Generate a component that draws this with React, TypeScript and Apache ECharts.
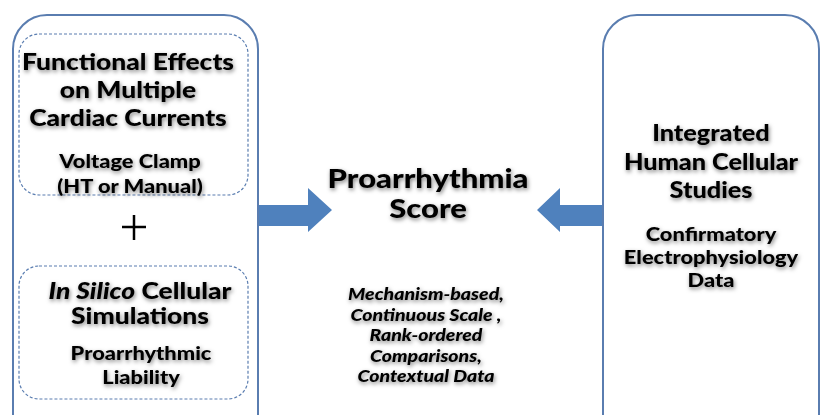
import React, { useEffect, useRef } from "react";
import * as echarts from "echarts";

const box1Title = ["Functional Effects", "on Multiple", "Cardiac Currents"];
const box1Sub = ["Voltage Clamp", "(HT or Manual)"];
const box2Title = ["{i|In Silico} Cellular", "Simulations"];
const box2Sub = ["Proarrhythmic", "Liability"];
const centerTitle = ["Proarrhythmia", "Score"];
const centerNotes = ["Mechanism-based,", "Continuous Scale ,", "Rank-ordered", "Comparisons,", "Contextual Data"];
const rightTitle = ["Integrated", "Human Cellular", "Studies"];
const rightSub = ["Confirmatory", "Electrophysiology", "Data"];

const FONT = "Lato, 'Open Sans', sans-serif";
const SX = 1.15;
const shadow = { textShadowColor: "rgba(0,0,0,0.5)", textShadowBlur: 4, textShadowOffsetX: 1, textShadowOffsetY: 2 };

function lines(arr: string[], cx: number, y0: number, dy: number, size: number, italic = false) {
  return arr.map((t, i) => ({
    type: "text",
    x: cx,
    y: y0 + i * dy,
    scaleX: SX,
    style: {
      text: t,
      fill: "#000",
      font: `${italic ? "italic " : ""}900 ${size}px ${FONT}`,
      textAlign: "center",
      textVerticalAlign: "middle",
      rich: {
        i: { fontStyle: "italic", fontWeight: 900, fontSize: size, fontFamily: FONT, fill: "#000", ...shadow },
      },
      ...shadow,
    },
  }));
}

export default function App() {
  const ref = useRef<HTMLDivElement>(null);
  useEffect(() => {
    const chart = echarts.init(ref.current!, null, { renderer: "svg" });
    const stroke = "#5a7db0";
    const arrowFill = "#4f81bd";
    chart.setOption({
      animation: false,
      backgroundColor: "#fff",
      graphic: [
        { type: "rect", shape: { x: 13, y: 15, width: 245, height: 440, r: 34 }, style: { fill: "none", stroke, lineWidth: 2 } },
        { type: "rect", shape: { x: 603, y: 15, width: 216, height: 440, r: 34 }, style: { fill: "none", stroke, lineWidth: 2 } },
        { type: "rect", shape: { x: 19, y: 34, width: 229, height: 161, r: 20 }, style: { fill: "none", stroke, lineWidth: 1.2, lineDash: [3, 2] } },
        { type: "rect", shape: { x: 19, y: 266, width: 229, height: 133, r: 20 }, style: { fill: "none", stroke, lineWidth: 1.2, lineDash: [3, 2] } },
        { type: "line", shape: { x1: 122, y1: 227, x2: 146, y2: 227 }, style: { stroke: "#000", lineWidth: 2.5 } },
        { type: "line", shape: { x1: 134, y1: 215, x2: 134, y2: 240 }, style: { stroke: "#000", lineWidth: 2.5 } },
        {
          type: "polygon",
          shape: { points: [[259, 205], [308, 205], [308, 188], [332, 210], [308, 232], [308, 226], [259, 226]] },
          style: { fill: arrowFill },
        },
        {
          type: "polygon",
          shape: { points: [[602, 205], [560, 205], [560, 188], [537, 210], [560, 232], [560, 226], [602, 226]] },
          style: { fill: arrowFill },
        },
        ...lines(box1Title, 128, 61, 28, 23),
        ...lines(box1Sub, 130, 161, 25, 19),
        ...lines(box2Title.slice(0, 1), 140, 290, 28, 23),
        ...lines(box2Title.slice(1), 140, 315, 28, 23),
        ...lines(box2Sub, 141, 353, 24, 19),
        ...lines(centerTitle, 428, 177, 30, 27),
        ...lines(centerNotes, 426, 294, 20.5, 17, true),
        ...lines(rightTitle, 711, 133, 28.5, 22),
        ...lines(rightSub, 711, 234, 23, 19),
      ],
    });
    return () => chart.dispose();
  }, []);
  return <div ref={ref} style={{ width: 821, height: 415, position: "absolute", left: 0, top: 0 }} />;
}
